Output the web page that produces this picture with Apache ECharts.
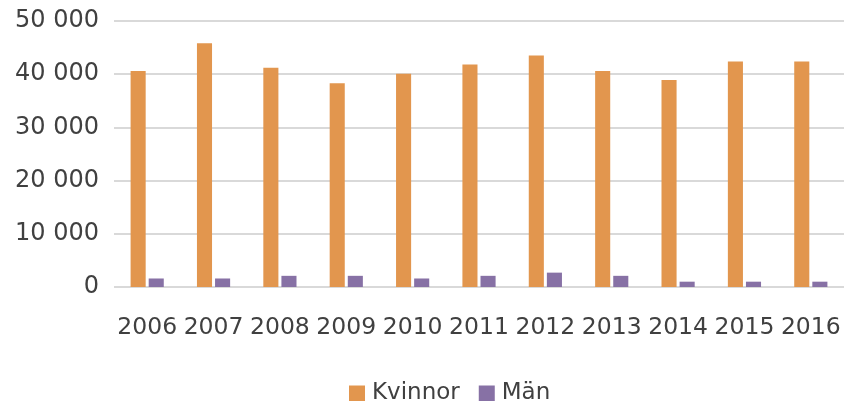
<!DOCTYPE html>
<html>
<head>
<meta charset="utf-8">
<script src="https://cdn.jsdelivr.net/npm/echarts@6/dist/echarts.min.js"></script>
<style>
  html, body { margin: 0; padding: 0; background: #fff; }
  #chart { width: 844px; height: 401px; }
</style>
</head>
<body>
<div id="chart"></div>
<script>
var years = ["2006", "2007", "2008", "2009", "2010", "2011", "2012", "2013", "2014", "2015", "2016"];
var kvinnor = [40600, 45800, 41200, 38300, 40100, 41800, 43500, 40600, 38900, 42400, 42400];
var man = [1600, 1600, 2100, 2100, 1600, 2100, 2700, 2100, 1000, 1000, 1000];

var font = "DejaVu Sans";
var textColor = "#404040";

var chart = echarts.init(document.getElementById("chart"));
chart.setOption({
  animation: false,
  grid: { left: 114, right: 0, top: 21, bottom: 114, containLabel: false },
  legend: {
    left: 344,
    top: 377,
    itemWidth: 16,
    itemHeight: 16,
    itemGap: 19,
    icon: "rect",
    textStyle: { fontFamily: font, fontSize: 23, color: textColor, padding: [0, 0, 0, 2] },
    data: ["Kvinnor", "Män"]
  },
  xAxis: {
    type: "category",
    data: years,
    axisLine: { show: false },
    axisTick: { show: false },
    axisLabel: {
      fontFamily: font, fontSize: 23.5, color: textColor, margin: 29,
      interval: 0, hideOverlap: false
    }
  },
  yAxis: {
    type: "value",
    min: 0,
    max: 50000,
    interval: 10000,
    axisLabel: {
      fontFamily: font, fontSize: 24, color: textColor, margin: 15,
      formatter: function (v) { return v === 0 ? "0" : String(v).replace(/(\d+)(\d{3})$/, "$1 $2"); }
    },
    splitLine: { lineStyle: { color: "#D9D9D9", width: 2 } }
  },
  series: [
    {
      name: "Kvinnor",
      type: "bar",
      data: kvinnor,
      barGap: "20%",
      barCategoryGap: "50%",
      itemStyle: { color: "#E2964E" }
    },
    {
      name: "Män",
      type: "bar",
      data: man,
      itemStyle: { color: "#8771A5" }
    }
  ]
});
</script>
</body>
</html>
